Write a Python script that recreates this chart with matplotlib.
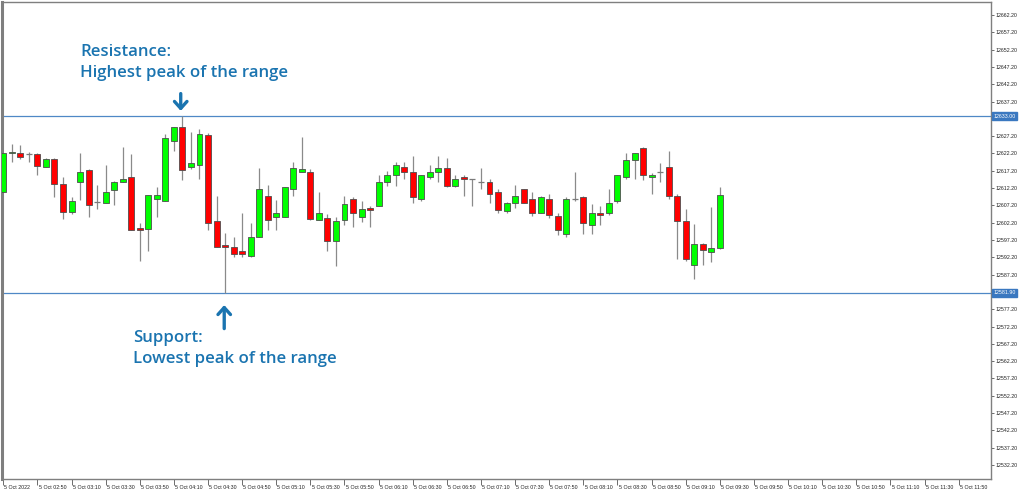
import matplotlib
matplotlib.use("Agg")
import matplotlib.pyplot as plt
from matplotlib.transforms import ScaledTranslation, blended_transform_factory

# ---------------- data ----------------
opens = [12611.2, 12622.3, 12622.3, 12622.1, 12622.1, 12618.4, 12620.6, 12613.5, 12605.4, 12613.9,
         12617.4, 12608.1, 12608.0, 12611.6, 12614.1, 12615.4, 12600.7, 12600.3, 12609.1, 12608.6,
         12625.9, 12629.9, 12618.4, 12618.9, 12627.4, 12602.7, 12595.7, 12595.1, 12594.1, 12592.6,
         12598.2, 12610.0, 12603.9, 12603.9, 12611.9, 12616.9, 12616.8, 12603.0, 12603.6, 12597.0,
         12603.0, 12609.0, 12603.9, 12606.5, 12607.0, 12613.9, 12616.0, 12618.4, 12616.9, 12609.0,
         12615.4, 12616.9, 12617.9, 12612.9, 12615.4, 12614.9, 12614.0, 12614.0, 12611.0, 12605.5,
         12608.0, 12611.9, 12609.0, 12605.0, 12609.0, 12604.0, 12599.0, 12609.0, 12609.5, 12601.5,
         12605.0, 12605.0, 12608.5, 12615.4, 12620.4, 12623.8, 12615.4, 12616.9, 12618.4, 12610.0,
         12602.8, 12589.9, 12595.9, 12593.8, 12594.8]
highs = [12622.3, 12624.9, 12624.6, 12622.7, 12622.3, 12620.9, 12620.9, 12615.3, 12609.5, 12622.4,
         12617.8, 12613.0, 12618.9, 12614.3, 12624.0, 12622.0, 12602.0, 12610.1, 12612.4, 12627.8,
         12629.9, 12633.0, 12628.3, 12629.3, 12628.2, 12610.0, 12599.1, 12598.2, 12605.1, 12602.0,
         12617.9, 12613.0, 12608.9, 12612.4, 12619.8, 12626.9, 12617.8, 12611.0, 12604.7, 12603.9,
         12610.0, 12609.5, 12608.6, 12607.0, 12616.0, 12617.0, 12619.8, 12619.8, 12621.4, 12616.0,
         12618.9, 12621.4, 12620.9, 12615.9, 12615.9, 12614.9, 12617.9, 12614.9, 12611.9, 12608.2,
         12613.0, 12612.0, 12611.0, 12610.0, 12610.5, 12605.0, 12609.5, 12616.9, 12609.9, 12607.5,
         12607.0, 12611.9, 12616.0, 12622.3, 12622.4, 12624.0, 12616.5, 12619.4, 12622.9, 12610.5,
         12606.2, 12601.8, 12596.3, 12606.7, 12612.6]
lows = [12611.2, 12619.6, 12620.7, 12619.6, 12616.0, 12618.2, 12609.5, 12603.4, 12604.7, 12608.9,
        12603.9, 12606.2, 12607.8, 12607.4, 12613.9, 12600.0, 12591.2, 12594.1, 12603.9, 12608.6,
        12622.9, 12614.4, 12617.7, 12614.8, 12600.1, 12595.2, 12581.9, 12592.2, 12592.2, 12592.4,
        12598.2, 12600.2, 12600.1, 12603.9, 12609.9, 12616.9, 12603.0, 12603.0, 12594.1, 12589.7,
        12601.5, 12601.0, 12602.5, 12601.0, 12606.9, 12612.9, 12612.9, 12614.9, 12608.0, 12608.5,
        12614.9, 12614.0, 12612.4, 12612.4, 12610.0, 12607.0, 12611.9, 12608.0, 12605.0, 12605.0,
        12606.5, 12607.9, 12604.0, 12604.9, 12603.5, 12598.6, 12598.1, 12608.5, 12599.0, 12599.0,
        12601.5, 12604.5, 12608.0, 12614.9, 12614.9, 12614.4, 12610.5, 12614.0, 12609.0, 12591.7,
        12591.2, 12586.0, 12589.9, 12590.9, 12594.6]
closes = [12622.3, 12622.7, 12621.3, 12622.1, 12618.5, 12620.6, 12613.5, 12605.3, 12608.5, 12616.9,
          12607.4, 12608.1, 12611.0, 12614.1, 12614.9, 12600.2, 12600.2, 12610.1, 12610.1, 12626.8,
          12629.9, 12617.3, 12619.4, 12627.8, 12602.0, 12595.2, 12595.1, 12593.2, 12593.2, 12598.2,
          12611.9, 12603.1, 12605.1, 12612.4, 12617.9, 12617.8, 12603.4, 12605.1, 12597.0, 12602.7,
          12607.5, 12605.0, 12606.1, 12605.9, 12613.9, 12616.0, 12618.9, 12616.9, 12609.5, 12616.0,
          12616.9, 12617.9, 12612.9, 12614.9, 12614.9, 12614.9, 12614.0, 12610.5, 12606.0, 12608.0,
          12610.0, 12608.0, 12605.0, 12609.5, 12604.5, 12600.1, 12609.0, 12609.0, 12602.0, 12605.0,
          12604.5, 12608.0, 12615.9, 12620.4, 12622.3, 12615.9, 12615.9, 12616.9, 12610.0, 12602.8,
          12591.7, 12595.9, 12594.3, 12594.8, 12610.1]

resistance = 12633.0
support = 12581.9

y_ticks = [12532.2 + 5 * k for k in range(27)]
x_tick_labels = ["5 Oct 2022", "5 Oct 02:50", "5 Oct 03:10", "5 Oct 03:30", "5 Oct 03:50",
                 "5 Oct 04:10", "5 Oct 04:30", "5 Oct 04:50", "5 Oct 05:10", "5 Oct 05:30",
                 "5 Oct 05:50", "5 Oct 06:10", "5 Oct 06:30", "5 Oct 06:50", "5 Oct 07:10",
                 "5 Oct 07:30", "5 Oct 07:50", "5 Oct 08:10", "5 Oct 08:30", "5 Oct 08:50",
                 "5 Oct 09:10", "5 Oct 09:30", "5 Oct 09:50", "5 Oct 10:10", "5 Oct 10:30",
                 "5 Oct 10:50", "5 Oct 11:10", "5 Oct 11:30", "5 Oct 11:50"]
x_tick_step = 4  # candles per label (5-minute candles, 20-minute labels)

resistance_text = "Resistance:\nHighest peak of the range"
support_text = "Support:\nLowest peak of the range"

# ---------------- figure ----------------
W, H, DPI = 1024, 492, 100
fig = plt.figure(figsize=(W / DPI, H / DPI), dpi=DPI)
fig.patch.set_facecolor("white")
ax_left, ax_right, ax_top, ax_bottom = 2, 991, 2, 479
ax = fig.add_axes([ax_left / W, 1 - ax_bottom / H, (ax_right - ax_left) / W, (ax_bottom - ax_top) / H])

spacing_px = 8.53
x0 = -(3.3 - ax_left) / spacing_px
ax.set_xlim(x0, x0 + (ax_right - ax_left) / spacing_px)
ax.set_ylim(12528.15, 12665.96)

n = len(opens)
idx = list(range(n))
GREEN, RED = "#00ff00", "#ff0000"
EDGE = "#4d4d4d"
WICK = "#8a8a8a"
bw = 0.7

ax.vlines(idx, lows, highs, color=WICK, lw=0.9, zorder=2)
for i in idx:
    o, c = opens[i], closes[i]
    if abs(c - o) < 0.05:
        ax.hlines(o, i - bw / 2, i + bw / 2, color="#7a7a7a", lw=0.9, zorder=3)
        continue
    col = GREEN if c > o else RED
    ax.bar(i, abs(c - o), bottom=min(o, c), width=bw, color=col, edgecolor=EDGE,
           linewidth=0.6, zorder=3)

line_col = "#4f88c6"
ax.axhline(resistance, color=line_col, lw=0.9, zorder=1)
ax.axhline(support, color=line_col, lw=0.9, zorder=1)

# spines
for s in ax.spines.values():
    s.set_color("#7f7f7f")
    s.set_linewidth(1.0)
ax.spines["left"].set_linewidth(2.2)

# y axis on the right (labels hidden under the highlighted price boxes are left blank)
ax.yaxis.tick_right()
ax.set_yticks(y_ticks)
ylabels = []
for v in y_ticks:
    if min(abs(v - resistance), abs(v - support)) < 1.5:
        ylabels.append("")
    else:
        ylabels.append(f"{v:.2f}")
ax.set_yticklabels(ylabels)
ax.tick_params(axis="y", direction="out", length=2.5, width=0.6, color="#555555",
               labelsize=3.8, pad=0.8, labelcolor="#222222", left=False)
for lbl in ax.get_yticklabels():
    lbl.set_fontfamily("Liberation Sans")

# x axis
xt = [k * x_tick_step for k in range(len(x_tick_labels))]
ax.set_xticks(xt)
ax.set_xticklabels(x_tick_labels)
ax.tick_params(axis="x", direction="out", length=4, width=0.6, color="#555555",
               labelsize=3.8, pad=0.5, labelcolor="#222222")
for lbl in ax.get_xticklabels():
    lbl.set_fontfamily("Liberation Sans")
    lbl.set_horizontalalignment("left")
    lbl.set_transform(lbl.get_transform() + ScaledTranslation(1.2 / DPI, 0, fig.dpi_scale_trans))

# highlighted price labels
bt = blended_transform_factory(ax.transAxes, ax.transData)
for v in (resistance, support):
    ax.text(1.0, v, f"{v:.2f}", transform=bt + ScaledTranslation(2.5 / DPI, 0, fig.dpi_scale_trans),
            ha="left", va="center", fontsize=3.8, family="Liberation Sans", color="white",
            bbox=dict(boxstyle="square,pad=0.25", fc="#3a78c0", ec="#3a78c0"), clip_on=False, zorder=5)

# annotations
txt_col = "#1a74b0"
fig.text(80 / W, 1 - 44 / H, resistance_text, ha="left", va="top", fontsize=12.1,
         family="Open Sans", fontweight="semibold", color=txt_col, linespacing=1.38)
fig.text(133 / W, 1 - 330 / H, support_text, ha="left", va="top", fontsize=12.1,
         family="Open Sans", fontweight="semibold", color=txt_col, linespacing=1.38)

arrow_kw = dict(arrowstyle="->,head_length=0.5,head_width=0.45", color=txt_col, lw=2.4)
ax.annotate("", xy=(20.8, 12633.7), xytext=(20.8, 12640.3), arrowprops=arrow_kw)
ax.annotate("", xy=(25.9, 12579.2), xytext=(25.9, 12570.8), arrowprops=arrow_kw)

fig.savefig("out.png", dpi=DPI, facecolor="white")
